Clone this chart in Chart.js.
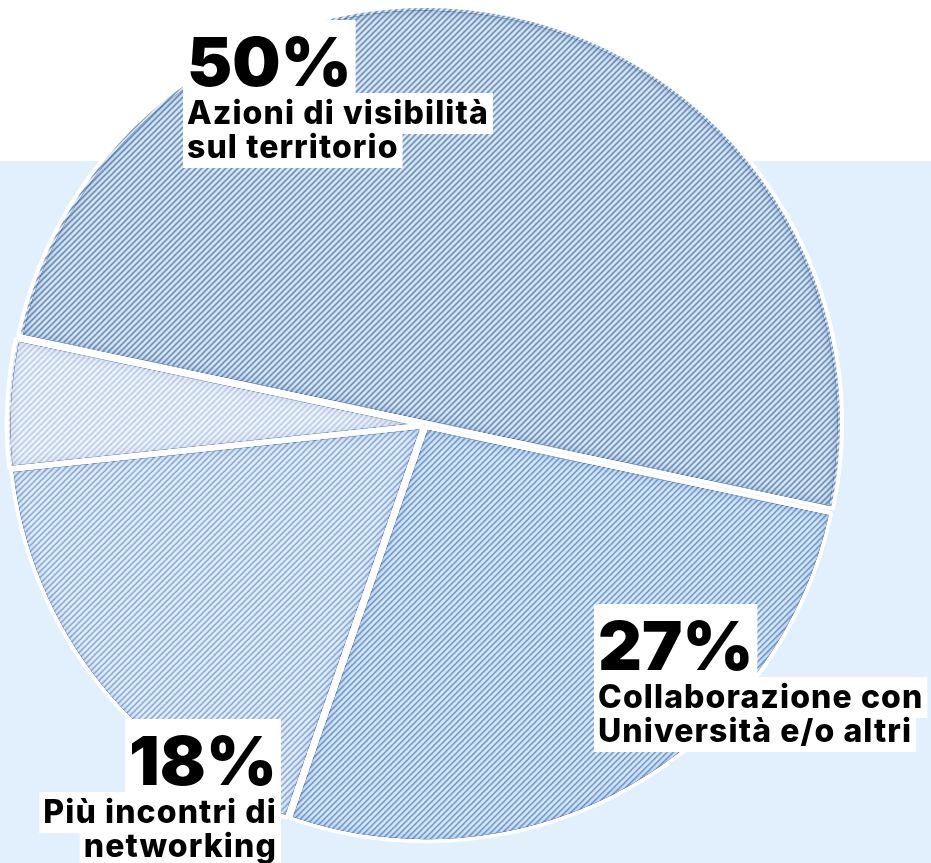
<!DOCTYPE html>
<html>
<head>
<meta charset="utf-8">
<script src="https://cdn.jsdelivr.net/npm/chart.js@4.4.1/dist/chart.umd.min.js"></script>
<style>
  html, body { margin: 0; padding: 0; background: #fff; }
  #wrap { position: relative; width: 931px; height: 863px; overflow: hidden; }
</style>
</head>
<body>
<div id="wrap"><canvas id="pieChart" width="931" height="863"></canvas></div>
<script>
// Data
const categories = ['Azioni di visibilità sul territorio', 'Collaborazione con Università e/o altri', 'Più incontri di networking', 'Altro'];
const values = [50, 27, 18, 5];
const percentLabels = ['50%', '27%', '18%', ''];
const labelLines = [
  ['Azioni di visibilità', 'sul territorio'],
  ['Collaborazione con', 'Università e/o altri'],
  ['Più incontri di', 'networking'],
  []
];

// Styles
const hatchFg = ['#3c6fac', '#4d87d0', '#6d9bdc', '#aac1ea'];
const hatchBg = ['#e0eaf6', '#dde9f8', '#e6eefa', '#f0f4fb'];
const shadeColors = ['rgba(60,105,170,0.4)', 'rgba(70,125,200,0.4)', 'rgba(95,140,210,0.32)', 'rgba(150,175,225,0.4)'];

// where the annotation blocks sit (first baseline), and how they are aligned
const labelLayout = [
  { x: 187, y: 86, align: 'left' },
  { x: 598, y: 670, align: 'left' },
  { x: 277, y: 785, align: 'right' },
  null
];
const numFont = '900 68px Inter';
const txtFont = '800 32px Inter';

function hatch(bg, fg) {
  const t = document.createElement('canvas');
  t.width = t.height = 6;
  const x = t.getContext('2d');
  x.fillStyle = bg;
  x.fillRect(0, 0, 6, 6);
  x.strokeStyle = fg;
  x.lineWidth = 1.25;
  x.beginPath();
  x.moveTo(-1, 7); x.lineTo(7, -1);
  x.moveTo(-1, 1); x.lineTo(1, -1);
  x.moveTo(5, 7); x.lineTo(7, 5);
  x.stroke();
  return x.createPattern(t, 'repeat');
}

const bgPlugin = {
  id: 'bgPlugin',
  beforeDraw(chart) {
    const c = chart.ctx;
    c.save();
    c.fillStyle = '#ffffff';
    c.fillRect(0, 0, chart.width, chart.height);
    c.fillStyle = '#e1f0fc';
    c.fillRect(0, 161, chart.width, chart.height - 161);
    c.restore();
  }
};

// darker fade along the inside of each slice edge
const shadePlugin = {
  id: 'shadePlugin',
  afterDatasetsDraw(chart) {
    const c = chart.ctx;
    const d = 2.5;
    chart.getDatasetMeta(0).data.forEach((arc, i) => {
      const p = arc.getProps(['x', 'y', 'startAngle', 'endAngle', 'outerRadius'], true);
      const off = (arc.options.offset || 0) / 4;
      const mid = (p.startAngle + p.endAngle) / 2;
      const half = (p.endAngle - p.startAngle) / 2;
      const cx = p.x + Math.cos(mid) * off;
      const cy = p.y + Math.sin(mid) * off;
      const r = p.outerRadius - 2;
      const delta = Math.asin(d / r);
      const apex = d / Math.sin(half);
      const wedge = () => {
        c.moveTo(cx + Math.cos(mid) * apex, cy + Math.sin(mid) * apex);
        c.arc(cx, cy, r, p.startAngle + delta, p.endAngle - delta);
        c.closePath();
      };
      c.save();
      c.beginPath();
      wedge();
      c.clip();
      c.beginPath();
      c.rect(-3000, -3000, 7000, 7000);
      wedge();
      c.shadowColor = shadeColors[i];
      c.shadowBlur = 10;
      c.fillStyle = '#000';
      c.fill('evenodd');
      c.restore();
    });
  }
};

const labelPlugin = {
  id: 'labelPlugin',
  afterDraw(chart) {
    const c = chart.ctx;
    c.save();
    c.textAlign = 'left';
    c.textBaseline = 'alphabetic';
    labelLayout.forEach((lay, i) => {
      if (!lay || !percentLabels[i]) return;
      const rows = [{ text: percentLabels[i], font: numFont, pad: 7, ls: '0px' }]
        .concat(labelLines[i].map(t => ({ text: t, font: txtFont, pad: 10, ls: '1.1px' })));
      let base = lay.y;
      let top = lay.y - 66;
      rows.forEach((row, k) => {
        if (k > 0) base += (k === 1 ? 38 : 34);
        c.font = row.font;
        c.letterSpacing = row.ls;
        const w = c.measureText(row.text).width;
        const left = lay.align === 'left' ? lay.x : lay.x - w;
        const bottom = base + row.pad;
        c.fillStyle = '#ffffff';
        c.fillRect(left - 4, top, w + 8, bottom - top);
        c.fillStyle = '#000000';
        c.fillText(row.text, left, base);
        top = bottom;
      });
    });
    c.restore();
  }
};

const ctx = document.getElementById('pieChart');
new Chart(ctx, {
  type: 'pie',
  data: {
    labels: categories,
    datasets: [{
      data: values,
      backgroundColor: values.map((v, i) => hatch(hatchBg[i], hatchFg[i])),
      borderColor: '#ffffff',
      borderWidth: 4,
      offset: 10,
      radius: 414
    }]
  },
  options: {
    responsive: false,
    animation: false,
    devicePixelRatio: 1,
    rotation: -78,
    layout: { padding: { left: 0, right: 81, top: 0, bottom: 13 } },
    plugins: {
      legend: { display: false },
      tooltip: { enabled: false }
    }
  },
  plugins: [bgPlugin, shadePlugin, labelPlugin]
});
</script>
</body>
</html>
